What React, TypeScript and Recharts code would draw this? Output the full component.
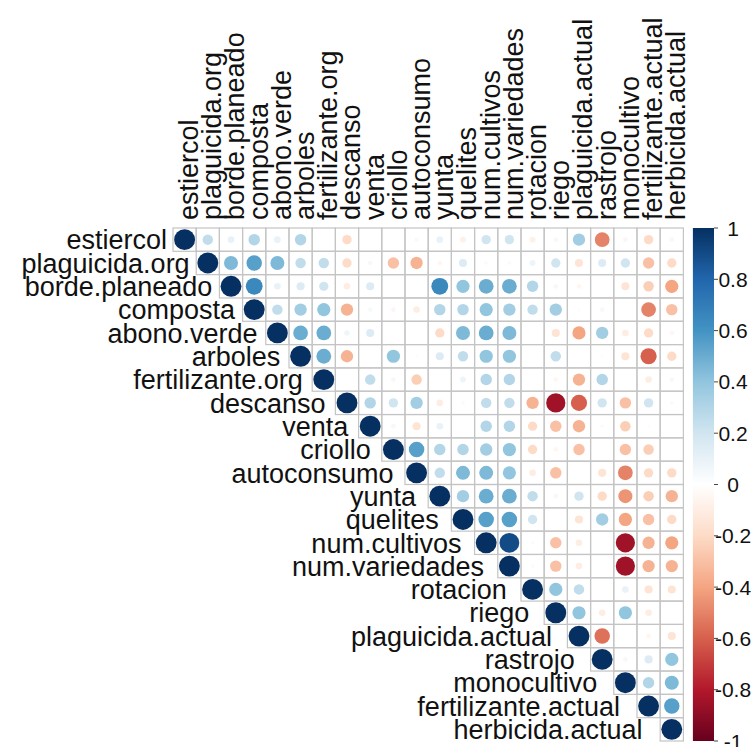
import React from "react";
import { ScatterChart, Scatter, XAxis, YAxis, ZAxis, ReferenceArea } from "recharts";

// Variable order (rows top to bottom, columns left to right)
const variables = [
  "estiercol",
  "plaguicida.org",
  "borde.planeado",
  "composta",
  "abono.verde",
  "arboles",
  "fertilizante.org",
  "descanso",
  "venta",
  "criollo",
  "autoconsumo",
  "yunta",
  "quelites",
  "num.cultivos",
  "num.variedades",
  "rotacion",
  "riego",
  "plaguicida.actual",
  "rastrojo",
  "monocultivo",
  "fertilizante.actual",
  "herbicida.actual",
];

// Upper triangle, each row starts at the column right after the diagonal
const rEstiercol = [0.25, 0.1, 0.3, 0.1, 0.3, 0, -0.2, 0, 0, 0.04, 0.1, -0.08, 0.2, 0.2, -0.08, 0.05, 0.35, -0.5, -0.05, -0.2, -0.05];
const rPlaguicidaOrg = [0.45, 0.55, 0.45, 0.25, 0.25, -0.2, 0.05, -0.3, -0.35, -0.05, 0.15, 0.03, 0.03, 0.08, 0.2, -0.15, 0.15, 0.2, -0.3, -0.2];
const rBordePlaneado = [0.65, 0.1, 0.15, 0.2, -0.1, 0.15, 0, 0, 0.65, 0.4, 0.5, 0.5, 0.3, 0.05, -0.05, 0, -0.15, -0.25, -0.4];
const rComposta = [0.25, 0.35, 0.4, -0.35, 0.05, -0.05, -0.1, 0.3, 0.3, 0.4, 0.35, 0.25, 0.35, 0.02, -0.05, 0, -0.5, -0.3];
const rAbonoVerde = [0.5, 0.5, 0.07, 0.15, 0, 0, -0.2, 0.45, 0.5, 0.45, 0, -0.15, -0.4, 0.35, -0.1, -0.2, -0.05];
const rArboles = [0.5, -0.35, 0, 0.4, 0.02, 0.15, 0.25, 0.4, 0.4, 0, 0.25, 0, 0.02, -0.15, -0.6, -0.2];
const rFertilizanteOrg = [0, 0.25, 0.05, -0.25, 0, 0.08, 0.3, 0.3, 0, -0.05, -0.35, 0.3, 0, -0.1, 0.05];
const rDescanso = [0.3, 0.2, 0.35, -0.1, 0.03, 0.25, 0.25, -0.35, -0.85, -0.6, 0.2, -0.3, 0.2, 0.03];
const rVenta = [0.05, -0.15, 0.1, 0, 0.3, 0.3, -0.2, -0.3, -0.35, 0.03, -0.25, 0.02, 0];
const rCriollo = [0.55, 0.3, 0.3, 0.35, 0.4, -0.2, -0.05, -0.3, 0, -0.3, -0.25, 0];
const rAutoconsumo = [0.25, 0.45, 0.45, 0.4, -0.1, -0.3, 0, -0.15, -0.5, -0.2, -0.2];
const rYunta = [0.35, 0.5, 0.5, 0.25, 0.05, 0.2, -0.2, -0.45, -0.25, -0.35];
const rQuelites = [0.55, 0.55, 0.2, 0, -0.15, 0.35, -0.4, -0.3, -0.2];
const rNumCultivos = [0.9, -0.03, -0.3, -0.1, 0, -0.85, -0.35, -0.4];
const rNumVariedades = [-0.03, -0.3, -0.1, 0, -0.85, -0.35, -0.35];
const rRotacion = [0.4, 0.25, 0, 0.1, -0.15, -0.15];
const rRiego = [0.4, -0.1, 0.4, -0.1, 0];
const rPlaguicidaActual = [-0.55, 0, -0.05, -0.15];
const rRastrojo = [0.05, 0.15, 0.4];
const rMonocultivo = [0.3, 0.45];
const rFertilizanteActual = [0.55];

const upperRows = [
  rEstiercol, rPlaguicidaOrg, rBordePlaneado, rComposta, rAbonoVerde, rArboles,
  rFertilizanteOrg, rDescanso, rVenta, rCriollo, rAutoconsumo, rYunta, rQuelites,
  rNumCultivos, rNumVariedades, rRotacion, rRiego, rPlaguicidaActual, rRastrojo,
  rMonocultivo, rFertilizanteActual, [],
];

const colorbarTicks = [-1, -0.8, -0.6, -0.4, -0.2, 0, 0.2, 0.4, 0.6, 0.8, 1];

// RdBu ramp, -1 .. 1
const palette = [
  "#67001F", "#B2182B", "#D6604D", "#F4A582", "#FDDBC7", "#FFFFFF",
  "#D1E5F0", "#92C5DE", "#4393C3", "#2166AC", "#053061",
];

const W = 752;
const H = 747;
const LEFT = 173;
const TOP = 228;
const RIGHT_AXIS = 38;
const BOTTOM = 6;
const X_MAX = 22.82;
const BAR_X1 = 21.91;
const N = variables.length;
const CW = (W - LEFT - RIGHT_AXIS) / (X_MAX + 0.5);
const CH = (H - TOP - BOTTOM) / N;
const FONT = '"Liberation Sans", Arial, Helvetica, sans-serif';

const hex = (c: string) => [1, 3, 5].map((k) => parseInt(c.slice(k, k + 2), 16));

function corrColor(v: number) {
  const t = ((v + 1) / 2) * (palette.length - 1);
  const i = Math.min(Math.floor(t), palette.length - 2);
  const f = t - i;
  const a = hex(palette[i]);
  const b = hex(palette[i + 1]);
  const c = a.map((x, k) => Math.round(x + (b[k] - x) * f));
  return `rgb(${c[0]},${c[1]},${c[2]})`;
}

const cells: { x: number; y: number; r: number; mag: number }[] = [];
upperRows.forEach((row, i) => {
  cells.push({ x: i, y: i, r: 1, mag: 1 });
  row.forEach((v, k) => cells.push({ x: i + 1 + k, y: i, r: v, mag: Math.abs(v) }));
});

const diag = variables.map((name, i) => ({ x: i, y: i, name }));

// anchors the colour-bar axis so that it gets a scale
const barEnds = [
  { x: (BAR_X1 + X_MAX) / 2, v: -1 },
  { x: (BAR_X1 + X_MAX) / 2, v: 1 },
];

const CellShape = (props: any) => {
  const { cx, cy, payload } = props;
  const rad = props.width != null ? props.width / 2 : Math.sqrt((props.size || 0) / Math.PI);
  return (
    <g>
      <rect
        x={cx - CW / 2}
        y={cy - CH / 2}
        width={CW}
        height={CH}
        fill="none"
        stroke="#c4c4c4"
        strokeWidth={1.2}
      />
      {rad > 0 && <circle cx={cx} cy={cy} r={rad} fill={corrColor(payload.r)} />}
    </g>
  );
};

const RowLabel = (props: any) => {
  const { cx, cy, payload } = props;
  const i = payload.x;
  return (
    <text
      x={cx - CW / 2 - 6 - 0.55 * i}
      y={cy}
      dy="0.36em"
      textAnchor="end"
      fontSize={27}
      fontFamily={FONT}
      fill="#111"
    >
      {payload.name}
    </text>
  );
};

const ColTick = (props: any) => {
  const { x, y, payload } = props;
  return (
    <text
      x={x}
      y={y}
      dy="0.5em"
      transform={`rotate(-90, ${x}, ${y})`}
      textAnchor="start"
      fontSize={27}
      fontFamily={FONT}
      fill="#111"
    >
      {variables[payload.value]}
    </text>
  );
};

const BarTick = (props: any) => {
  const { x, y, payload } = props;
  return (
    <text x={x + 13} y={y} dy="0.36em" textAnchor="middle" fontSize={21} fontFamily={FONT} fill="#111">
      {String(payload.value)}
    </text>
  );
};

const Empty = () => <g />;

export default function App() {
  return (
    <div style={{ width: W, height: H }}>
      <style>{"body{margin:0;background:#fff}"}</style>
      <ScatterChart
        width={W}
        height={H}
        margin={{ top: TOP - 20, left: LEFT, right: 0, bottom: BOTTOM }}
      >
        <defs>
          <linearGradient id="corrbar" x1="0" y1="0" x2="0" y2="1">
            {palette
              .slice()
              .reverse()
              .map((c, k) => (
                <stop key={k} offset={`${(k / (palette.length - 1)) * 100}%`} stopColor={c} />
              ))}
          </linearGradient>
        </defs>
        <XAxis
          type="number"
          dataKey="x"
          orientation="top"
          height={20}
          domain={[-0.5, X_MAX]}
          ticks={variables.map((_, i) => i)}
          interval={0}
          axisLine={false}
          tickLine={false}
          tickSize={0}
          tickMargin={8}
          tick={<ColTick />}
        />
        <YAxis type="number" dataKey="y" domain={[-0.5, N - 0.5]} reversed hide />
        <YAxis
          yAxisId="cb"
          dataKey="v"
          orientation="right"
          type="number"
          domain={[-1, 1]}
          ticks={colorbarTicks}
          width={RIGHT_AXIS}
          axisLine={false}
          tickLine={{ stroke: "#444" }}
          tickSize={4}
          tickMargin={2}
          tick={<BarTick />}
          interval={0}
        />
        <ZAxis type="number" dataKey="mag" domain={[0, 1]} range={[0, Math.PI * Math.pow(0.45 * CW, 2)]} />
        <ReferenceArea
          yAxisId="cb"
          x1={BAR_X1}
          x2={X_MAX}
          y1={-1}
          y2={1}
          fill="url(#corrbar)"
          fillOpacity={1}
          stroke="none"
        />
        <Scatter data={cells} shape={<CellShape />} isAnimationActive={false} />
        <Scatter data={diag} shape={<RowLabel />} isAnimationActive={false} />
        <Scatter yAxisId="cb" data={barEnds} shape={<Empty />} isAnimationActive={false} />
      </ScatterChart>
    </div>
  );
}
